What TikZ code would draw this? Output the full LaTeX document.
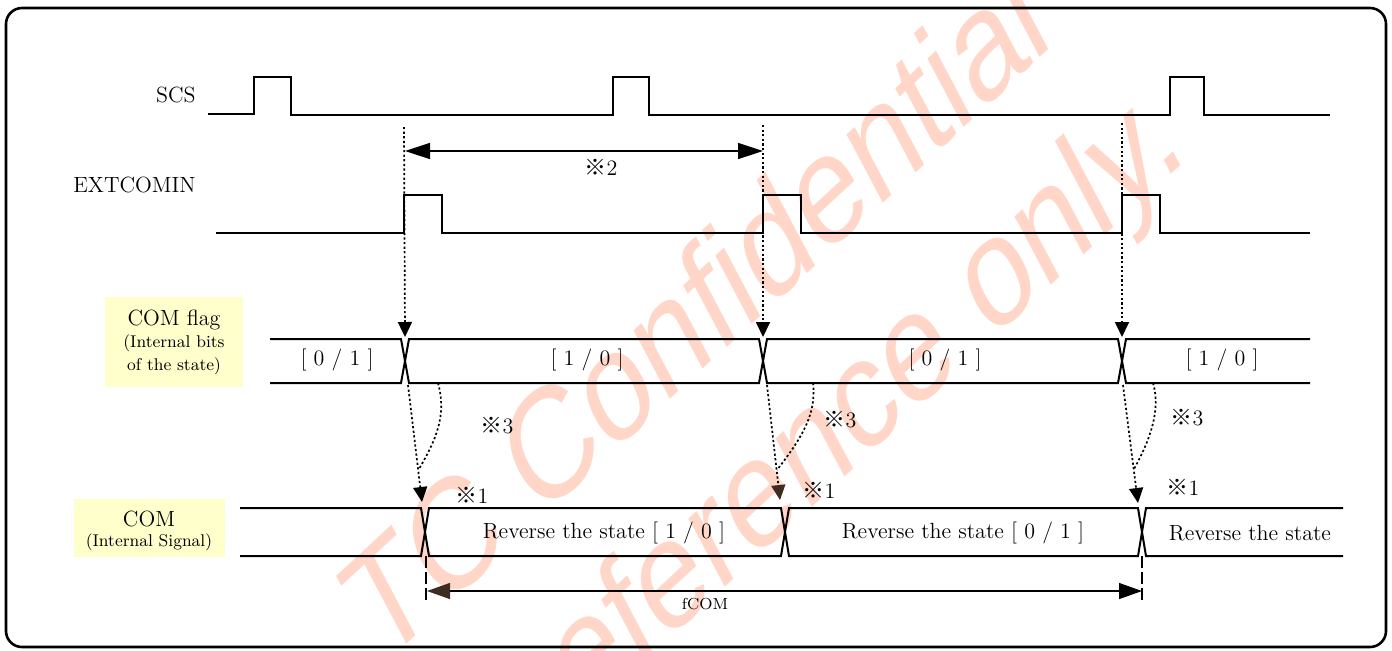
\documentclass[tikz,border=0pt]{standalone}
\usepackage{fontspec}
\newfontfamily\cjk{Noto Sans CJK JP}
\newfontfamily\wmfont{Liberation Sans}
\usetikzlibrary{arrows.meta}
\definecolor{padyellow}{RGB}{255,255,204}
\definecolor{wmcolor}{RGB}{255,214,200}
\definecolor{headbrown}{RGB}{62,44,34}
\newcommand{\refmark}{{\cjk ※}}
\begin{document}
\begin{tikzpicture}[x=0.5pt,y=-0.5pt,
  sig/.style={line width=1pt,line join=miter},
  lbl/.style={inner sep=0pt,font=\fontsize{11}{13}\selectfont},
  small/.style={inner sep=0pt,font=\fontsize{8.5}{10}\selectfont},
  note/.style={inner sep=0pt,font=\fontsize{11}{13}\selectfont},
  ybox/.style={fill=padyellow,draw=none,inner sep=0pt},
  dotline/.style={line width=0.85pt,dash pattern=on 1.1pt off 1.2pt},
  dotarrow/.style={dotline,-{Triangle[length=7.5pt,width=7pt]}},
  dimarrow/.style={line width=0.7pt,{Triangle[length=12.5pt,width=8pt]}-{Triangle[length=12.5pt,width=8pt]}},
  dashv/.style={line width=0.6pt,dash pattern=on 6pt off 2pt},
  wm/.style={transform shape,rotate=35,inner sep=0pt,text=wmcolor,font=\wmfont\fontsize{79}{79}\selectfont}]
\useasboundingbox (0,0) rectangle (1392,650);

% watermark
\begin{scope}
\clip (0,0) rectangle (1392,650);
\begin{scope}[xscale=0.756]
\node[wm] (wm1) at (918,309) {TC Confidential};
\node[wm] (wm2) at (1127,420) {reference only.};
\end{scope}
\end{scope}

% frame
\draw[line width=1.3pt,rounded corners=8pt] (6,8) rectangle (1386,647);

% signal names
\node[lbl,anchor=east] (scsl) at (196,95) {SCS};
\node[lbl,anchor=east] (extl) at (196,185) {EXTCOMIN};

% SCS
\draw[sig] (208,114) -- (254,114) -- (254,77) -- (291,77) -- (291,115) -- (613,115) -- (613,77) -- (649,77) -- (649,115)
  -- (1170,115) -- (1170,77) -- (1204,77) -- (1204,115) -- (1330,115);

% EXTCOMIN
\draw[sig] (216,233) -- (404,233) -- (404,195) -- (442,195) -- (442,233) -- (763,233) -- (763,195) -- (801,195) -- (801,233)
  -- (1122,233) -- (1122,195) -- (1160,195) -- (1160,233) -- (1310,233);

% coordinates
\coordinate (e1) at (404,127);
\coordinate (e2) at (763,125);
\coordinate (e3) at (1122,123);
\coordinate (f1) at (405,337);
\coordinate (f2) at (763,337);
\coordinate (f3) at (1122,337);
\coordinate (d1) at (405,151);
\coordinate (d2) at (763,151);

% vertical dotted arrows
\draw[dotarrow] (e1) -- (f1);
\draw[dotarrow] (e2) -- (f2);
\draw[dotarrow] (e3) -- (f3);

% dimension 2
\draw[dimarrow] (d1) -- (d2);
\node[note] (n2) at (601,167) {\refmark2};

% COM flag box
\node[ybox,minimum width=69pt,minimum height=45pt] (flagbox) at (174,342) {};
\node[lbl] (flagt1) at (174,320) {COM flag};
\node[small] (flagt2) at (174,343) {(Internal bits};
\node[small] (flagt3) at (174,366) {of the state)};

% COM flag bus
\draw[sig] (270,339) -- (401,339) -- (409,383) -- (759,383) -- (767,339) -- (1118,339) -- (1126,383) -- (1310,383);
\draw[sig] (270,383) -- (401,383) -- (409,339) -- (759,339) -- (767,383) -- (1118,383) -- (1126,339) -- (1310,339);
\node[lbl] (fl1) at (337,360) {[ 0 / 1 ]};
\node[lbl] (fl2) at (587,360) {[ 1 / 0 ]};
\node[lbl] (fl3) at (945,360) {[ 0 / 1 ]};
\node[lbl] (fl4) at (1222,360) {[ 1 / 0 ]};

% COM box
\node[ybox,minimum width=75.5pt,minimum height=29pt] (combox) at (149.5,528) {};
\node[lbl] (comt1) at (149,519) {COM};
\node[small] (comt2) at (149,542) {(Internal Signal)};

% COM bus
\draw[sig] (240,508) -- (421,508) -- (429,556) -- (781,556) -- (789,508) -- (1138,508) -- (1146,556) -- (1343,556);
\draw[sig] (240,556) -- (421,556) -- (429,508) -- (781,508) -- (789,556) -- (1138,556) -- (1146,508) -- (1343,508);
\node[lbl] (cl1) at (604,533) {Reverse the state [ 1 / 0 ]};
\node[lbl] (cl2) at (963,533) {Reverse the state [ 0 / 1 ]};
\node[lbl] (cl3) at (1250,533) {Reverse the state};

% flag -> COM arrows
\coordinate (g1) at (408,385);
\coordinate (g2) at (767,385);
\coordinate (g3) at (1123,385);
\coordinate (h1) at (422,502);
\coordinate (h2) at (780,500);
\coordinate (h3) at (1138,503);
\draw[dotarrow] (g1) -- (h1);
\draw[dotline,-{Triangle[length=7.5pt,width=7pt,color=headbrown]}] (g2) -- (h2);
\draw[dotarrow] (g3) -- (h3);

% curved delay lines
\coordinate (c1) at (438,383);
\coordinate (c2) at (813,383);
\coordinate (c3) at (1153,383);
\coordinate (m1) at (419,469);
\coordinate (m2) at (777,470);
\coordinate (m3) at (1134,469);
\draw[dotline] (c1) .. controls (447,415) and (436,440) .. (m1);
\draw[dotline] (c2) .. controls (817,415) and (800,440) .. (m2);
\draw[dotline] (c3) .. controls (1161,410) and (1150,440) .. (m3);

\node[note] (n31) at (497,426) {\refmark3};
\node[note] (n32) at (840,420) {\refmark3};
\node[note] (n33) at (1187,418) {\refmark3};
\node[note] (n11) at (472,495) {\refmark1};
\node[note] (n12) at (819,490) {\refmark1};
\node[note] (n13) at (1183,487) {\refmark1};

% fCOM
\coordinate (p1) at (426,556);
\coordinate (p2) at (1142,556);
\coordinate (q1) at (426,602);
\coordinate (q2) at (1142,602);
\coordinate (r1) at (427,591);
\coordinate (r2) at (1142,591);
\draw[dashv] (p1) -- (q1);
\draw[dashv] (p2) -- (q2);
\draw[line width=0.6pt,{Triangle[length=11.5pt,width=8pt,color=headbrown]}-{Triangle[length=11.5pt,width=8pt]}] (r1) -- (r2);
\node[inner sep=0pt,font=\fontsize{8}{9}\selectfont] (fcom) at (705,604) {fCOM};
\end{tikzpicture}
\end{document}
